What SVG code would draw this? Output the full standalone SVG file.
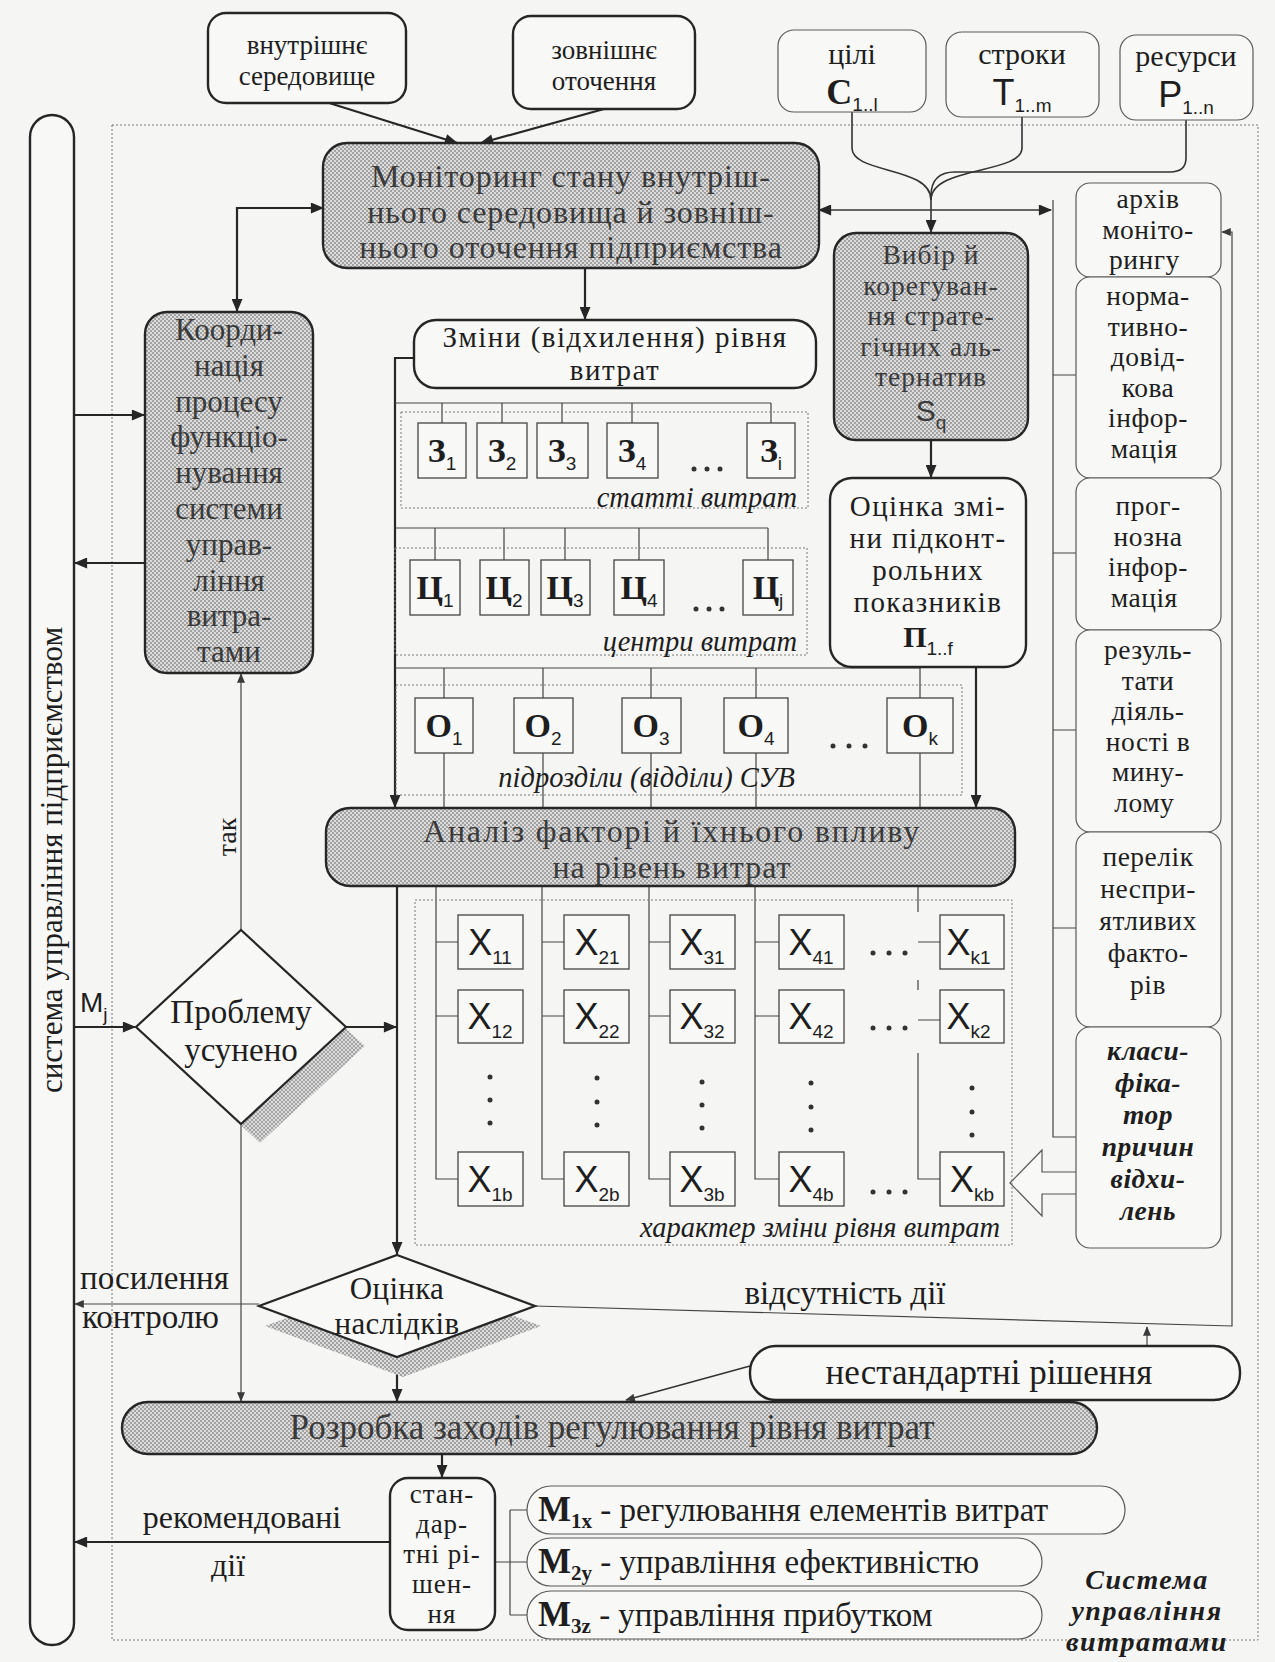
<svg xmlns="http://www.w3.org/2000/svg" width="1275" height="1662" viewBox="0 0 1275 1662" font-size="27">
<defs>
<pattern id="hatch" width="4" height="4" patternUnits="userSpaceOnUse">
<rect width="4" height="4" fill="#dcdcdc"/>
<rect width="2" height="2" fill="#a2a2a2"/>
<rect x="2" y="2" width="2" height="2" fill="#a2a2a2"/>
</pattern>
<marker id="ah" viewBox="0 0 12 10" refX="11" refY="5" markerWidth="15" markerHeight="11" markerUnits="userSpaceOnUse" orient="auto-start-reverse"><path d="M0,0 L12,5 L0,10 z" fill="#262626"/></marker>
<marker id="as" viewBox="0 0 12 10" refX="11" refY="5" markerWidth="11" markerHeight="8" markerUnits="userSpaceOnUse" orient="auto-start-reverse"><path d="M0,0 L12,5 L0,10 z" fill="#3a3a3a"/></marker>
<style>
.tb{fill:#f8f8f6;stroke:#262626;stroke-width:2.4}
.th{fill:#f8f8f6;stroke:#5a5a5a;stroke-width:1.2}
.sh{fill:url(#hatch);stroke:#262626;stroke-width:2.4}
.bx{fill:#f8f8f6;stroke:#444;stroke-width:1.3}
.t{font-family:"Liberation Serif","Times New Roman",serif;fill:#1e1e1e;text-anchor:middle}
.ts{fill:#3a3a3a}
.sf{font-family:"Liberation Sans",Arial,sans-serif}
.i{font-style:italic}
.b{font-weight:bold}
.ln{fill:none;stroke:#262626;stroke-width:2.2}
.lm{fill:none;stroke:#333;stroke-width:1.6}
.lt{fill:none;stroke:#444;stroke-width:1.2}
.dt{fill:none;stroke:#7a7a7a;stroke-width:1;stroke-dasharray:2 2}
.dot{fill:#333}
.sub{font-family:"Liberation Sans",Arial,sans-serif;font-size:19px;letter-spacing:0}
.bl{font-weight:bold;font-size:34px}
.xl{font-family:"Liberation Sans",Arial,sans-serif;font-size:36px}
.lbl{font-style:italic;font-size:28.5px;text-anchor:end}
</style>
</defs>
<rect width="1275" height="1662" fill="#f5f5f3"/>

<g id="cost-system-frame"><rect class="dt" x="112" y="125" width="1146" height="1515"/></g>

<g id="connectors">
<path class="ln" d="M326,102 L457,143" marker-end="url(#ah)"/>
<path class="ln" d="M604,109 L481,143" marker-end="url(#ah)"/>
<path class="lm" d="M852,112 V148 C852,174 931,166 931,200"/>
<path class="lm" d="M1022,117 V148 C1022,174 931,166 931,200"/>
<path class="lm" d="M1186,120 V158 Q1186,172 1170,172 H955 Q931,172 931,196"/>
<path class="lm" d="M931,196 V232" marker-end="url(#ah)"/>
<path class="lm" d="M819,210 H1051" marker-start="url(#ah)" marker-end="url(#ah)"/>
<path class="lt" d="M1053,200 V1137 H1076 M1053,375 H1076 M1053,553 H1076 M1053,730 H1076 M1053,928 H1076"/>
<path class="ln" d="M323,208 H237 V311" marker-start="url(#ah)" marker-end="url(#ah)"/>
<path class="ln" d="M585,268 V319" marker-end="url(#ah)"/>
<path class="ln" d="M74,415 H144" marker-end="url(#ah)"/>
<path class="ln" d="M145,563 H75" marker-end="url(#ah)"/>
<path class="ln" d="M931,440 V477" marker-end="url(#ah)"/>
<path class="ln" d="M976,667 V807" marker-end="url(#ah)"/>
<path class="ln" d="M414,358 H395 V807" marker-end="url(#ah)"/>
<path class="lt" d="M395,403 H771 M442,403 V423 M502,403 V423 M562,403 V423 M632,403 V423 M771,403 V423"/>
<path class="lt" d="M395,528 H768 M435,528 V560 M504,528 V560 M565,528 V560 M639,528 V560 M768,528 V560"/>
<path class="lt" d="M395,668 H920 M444,668 V698 M543,668 V698 M651,668 V698 M756,668 V698 M920,668 V698 M444,753 V808 M543,753 V808 M651,753 V808 M756,753 V808 M920,753 V808"/>
<path class="ln" d="M397,886 V1254" marker-end="url(#ah)"/>
<path class="lt" d="M436,886 V1179 H458 M436,942 H458 M436,1016 H458"/>
<path class="lt" d="M542,886 V1179 H564 M542,942 H564 M542,1016 H564"/>
<path class="lt" d="M649,886 V1179 H670 M649,942 H670 M649,1016 H670"/>
<path class="lt" d="M755,886 V1179 H779 M755,942 H779 M755,1016 H779"/>
<path class="lt" d="M918,886 V912 M918,980 V990 M918,1053 V1179 H940 M918,942 H940 M918,1020 H940"/>
<path class="lt" d="M241,930 V674" marker-end="url(#as)"/>
<path class="lt" d="M241,1124 V1401" marker-end="url(#as)"/>
<path class="ln" d="M346,1027 H396" marker-end="url(#ah)"/>
<path class="ln" d="M74,1027 H135" marker-end="url(#ah)"/>
<path class="lt" d="M259,1304 H75" marker-end="url(#as)"/>
<path class="ln" d="M397,1357 V1401" marker-end="url(#ah)"/>
<path class="lt" d="M535,1306 L1232,1326 V232 H1222" marker-end="url(#as)"/>
<path class="lt" d="M1147,1346 V1327" marker-end="url(#as)"/>
<path class="lm" d="M750,1366 L626,1400" marker-end="url(#as)"/>
<path class="ln" d="M442,1454 V1477" marker-end="url(#ah)"/>
<path class="ln" d="M390,1542 H75" marker-end="url(#ah)"/>
<path class="lt" d="M495,1562 H510 M510,1510 V1615 M510,1510 H527 M510,1562 H527 M510,1615 H527"/>
<polygon points="1010,1183 1042,1150 1042,1172 1078,1172 1078,1194 1042,1194 1042,1216" fill="#f8f8f6" stroke="#555" stroke-width="1.2"/>
</g>

<g id="enterprise-system"><rect class="tb" x="30" y="115" width="44" height="1530" rx="22"/><text class="t" font-size="31" transform="translate(62,860) rotate(-90)">система управління підприємством</text></g>

<g id="internal-env"><rect class="tb" x="208" y="13" width="198" height="90" rx="18"/><text class="t"><tspan x="307" y="54">внутрішнє</tspan><tspan x="307" y="85">середовище</tspan></text></g>
<g id="external-env"><rect class="tb" x="513" y="16" width="182" height="93" rx="18"/><text class="t"><tspan x="604" y="59">зовнішнє</tspan><tspan x="604" y="90">оточення</tspan></text></g>
<g id="goals"><rect class="th" x="778" y="30" width="148" height="82" rx="16"/><text class="t" font-size="30" x="852" y="64">цілі</text><text class="t" x="852" y="104"><tspan class="b" font-size="36">C</tspan><tspan class="sub" dy="7">1..l</tspan></text></g>
<g id="terms"><rect class="th" x="946" y="32" width="153" height="85" rx="16"/><text class="t" font-size="30" x="1022" y="64">строки</text><text class="t" x="1022" y="105"><tspan class="sf" font-size="36">T</tspan><tspan class="sub" dy="7">1..m</tspan></text></g>
<g id="resources"><rect class="th" x="1120" y="35" width="133" height="85" rx="16"/><text class="t" font-size="30" x="1186" y="66">ресурси</text><text class="t" x="1186" y="107"><tspan class="sf" font-size="36">P</tspan><tspan class="sub" dy="7">1..n</tspan></text></g>

<g id="monitoring"><rect class="sh" x="323" y="143" width="496" height="125" rx="24"/><text class="t ts" font-size="32" letter-spacing="0.9"><tspan x="571" y="187">Моніторинг стану внутріш-</tspan><tspan x="571" y="222.5">нього середовища й зовніш-</tspan><tspan x="571" y="258">нього оточення підприємства</tspan></text></g>

<g id="choice"><rect class="sh" x="834" y="233" width="194" height="207" rx="22"/><text class="t ts" font-size="27.5" letter-spacing="1"><tspan x="931" y="264">Вибір й</tspan><tspan x="931" y="294.5">корегуван-</tspan><tspan x="931" y="325">ня страте-</tspan><tspan x="931" y="355.5">гічних аль-</tspan><tspan x="931" y="386">тернатив</tspan></text><text class="t ts" x="931" y="421"><tspan class="sf" font-size="30">S</tspan><tspan class="sub" dy="8">q</tspan></text></g>

<g id="coordination"><rect class="sh" x="145" y="312" width="168" height="361" rx="22"/><text class="t ts" font-size="31"><tspan x="229" y="340">Коорди-</tspan><tspan x="229" y="375.8">нація</tspan><tspan x="229" y="411.6">процесу</tspan><tspan x="229" y="447.4">функціо-</tspan><tspan x="229" y="483.2">нування</tspan><tspan x="229" y="519">системи</tspan><tspan x="229" y="554.8">управ-</tspan><tspan x="229" y="590.6">ління</tspan><tspan x="229" y="626.4">витра-</tspan><tspan x="229" y="662.2">тами</tspan></text></g>

<g id="changes"><rect class="tb" x="414" y="320" width="402" height="68" rx="22"/><text class="t" font-size="29" letter-spacing="1.5"><tspan x="615" y="347">Зміни (відхилення) рівня</tspan><tspan x="615" y="379.5">витрат</tspan></text></g>

<g id="assessment"><rect class="tb" x="830" y="478" width="196" height="189" rx="22"/><text class="t" font-size="29" letter-spacing="1.4"><tspan x="928" y="516">Оцінка змі-</tspan><tspan x="928" y="548">ни підконт-</tspan><tspan x="928" y="580">рольних</tspan><tspan x="928" y="612">показників</tspan></text><text class="t" x="928" y="647"><tspan class="b" font-size="30">П</tspan><tspan class="sub" dy="8">1..f</tspan></text></g>

<g id="archive">
<rect class="th" x="1076" y="183" width="145" height="94" rx="14"/>
<rect class="th" x="1076" y="277" width="145" height="201" rx="14"/>
<rect class="th" x="1076" y="478" width="145" height="152" rx="14"/>
<rect class="th" x="1076" y="630" width="145" height="202" rx="14"/>
<rect class="th" x="1076" y="832" width="145" height="195" rx="14"/>
<rect class="th" x="1076" y="1027" width="145" height="221" rx="14"/>
<text class="t" font-size="27.5" letter-spacing="0.5"><tspan x="1148" y="208">архів</tspan><tspan x="1148" y="238.5">моніто-</tspan><tspan x="1148" y="269">рингу</tspan>
<tspan x="1148" y="305">норма-</tspan><tspan x="1148" y="335.5">тивно-</tspan><tspan x="1148" y="366">довід-</tspan><tspan x="1148" y="396.5">кова</tspan><tspan x="1148" y="427">інфор-</tspan><tspan x="1148" y="457.5">мація</tspan>
<tspan x="1148" y="515">прог-</tspan><tspan x="1148" y="545.5">нозна</tspan><tspan x="1148" y="576">інфор-</tspan><tspan x="1148" y="606.5">мація</tspan>
<tspan x="1148" y="659">резуль-</tspan><tspan x="1148" y="689.5">тати</tspan><tspan x="1148" y="720">діяль-</tspan><tspan x="1148" y="750.5">ності в</tspan><tspan x="1148" y="781">мину-</tspan><tspan x="1148" y="811.5">лому</tspan>
<tspan x="1148" y="866">перелік</tspan><tspan x="1148" y="898">неспри-</tspan><tspan x="1148" y="930">ятливих</tspan><tspan x="1148" y="962">факто-</tspan><tspan x="1148" y="994">рів</tspan></text>
<text class="t b i" font-size="27.5" letter-spacing="0.5"><tspan x="1148" y="1060">класи-</tspan><tspan x="1148" y="1092">фіка-</tspan><tspan x="1148" y="1124">тор</tspan><tspan x="1148" y="1156">причин</tspan><tspan x="1148" y="1188">відхи-</tspan><tspan x="1148" y="1220">лень</tspan></text>
</g>

<g id="cost-items">
<rect class="dt" x="401" y="412" width="407" height="96"/>
<rect class="bx" x="418" y="423" width="48" height="55"/><rect class="bx" x="477" y="423" width="50" height="55"/><rect class="bx" x="537" y="423" width="51" height="55"/><rect class="bx" x="607" y="423" width="51" height="55"/><rect class="bx" x="747" y="423" width="48" height="55"/>
<text class="t"><tspan x="442" y="462"><tspan class="bl">З</tspan><tspan class="sub" dy="8">1</tspan></tspan><tspan x="502" y="462"><tspan class="bl">З</tspan><tspan class="sub" dy="8">2</tspan></tspan><tspan x="562" y="462"><tspan class="bl">З</tspan><tspan class="sub" dy="8">3</tspan></tspan><tspan x="632" y="462"><tspan class="bl">З</tspan><tspan class="sub" dy="8">4</tspan></tspan><tspan x="771" y="462"><tspan class="bl">З</tspan><tspan class="sub" dy="8">i</tspan></tspan></text>
<circle class="dot" cx="694" cy="469" r="2.5"/><circle class="dot" cx="707" cy="469" r="2.5"/><circle class="dot" cx="720" cy="469" r="2.5"/>
<text class="t lbl" x="797" y="507">статті витрат</text>
</g>

<g id="cost-centers">
<rect class="dt" x="395" y="548" width="412" height="107"/>
<rect class="bx" x="410" y="560" width="50" height="55"/><rect class="bx" x="480" y="560" width="49" height="55"/><rect class="bx" x="541" y="560" width="49" height="55"/><rect class="bx" x="614" y="560" width="50" height="55"/><rect class="bx" x="743" y="560" width="50" height="55"/>
<text class="t"><tspan x="435" y="599"><tspan class="bl">Ц</tspan><tspan class="sub" dy="8">1</tspan></tspan><tspan x="504" y="599"><tspan class="bl">Ц</tspan><tspan class="sub" dy="8">2</tspan></tspan><tspan x="565" y="599"><tspan class="bl">Ц</tspan><tspan class="sub" dy="8">3</tspan></tspan><tspan x="639" y="599"><tspan class="bl">Ц</tspan><tspan class="sub" dy="8">4</tspan></tspan><tspan x="768" y="599"><tspan class="bl">Ц</tspan><tspan class="sub" dy="8">j</tspan></tspan></text>
<circle class="dot" cx="696" cy="609" r="2.5"/><circle class="dot" cx="709" cy="609" r="2.5"/><circle class="dot" cx="722" cy="609" r="2.5"/>
<text class="t lbl" x="797" y="651">центри витрат</text>
</g>

<g id="departments">
<rect class="dt" x="396" y="685" width="566" height="110"/>
<rect class="bx" x="415" y="698" width="58" height="55"/><rect class="bx" x="514" y="698" width="59" height="55"/><rect class="bx" x="622" y="698" width="59" height="55"/><rect class="bx" x="724" y="698" width="64" height="55"/><rect class="bx" x="887" y="698" width="66" height="55"/>
<text class="t"><tspan x="444" y="737"><tspan class="bl">О</tspan><tspan class="sub" dy="8">1</tspan></tspan><tspan x="543" y="737"><tspan class="bl">О</tspan><tspan class="sub" dy="8">2</tspan></tspan><tspan x="651" y="737"><tspan class="bl">О</tspan><tspan class="sub" dy="8">3</tspan></tspan><tspan x="756" y="737"><tspan class="bl">О</tspan><tspan class="sub" dy="8">4</tspan></tspan><tspan x="920" y="737"><tspan class="bl">О</tspan><tspan class="sub" dy="8">k</tspan></tspan></text>
<circle class="dot" cx="833" cy="746" r="2.5"/><circle class="dot" cx="849" cy="746" r="2.5"/><circle class="dot" cx="865" cy="746" r="2.5"/>
<text class="t lbl" x="795" y="787">підрозділи (відділи) СУВ</text>
</g>

<g id="analysis"><rect class="sh" x="326" y="808" width="689" height="78" rx="24"/><text class="t ts" font-size="32"><tspan x="672" y="842" letter-spacing="1.8">Аналіз факторі й їхнього впливу</tspan><tspan x="672" y="877.5" letter-spacing="1">на рівень витрат</tspan></text></g>

<g id="factors">
<rect class="dt" x="415" y="900" width="597" height="345"/>
<rect class="bx" x="458" y="915" width="65" height="54"/><rect class="bx" x="564" y="915" width="65" height="54"/><rect class="bx" x="670" y="915" width="65" height="54"/><rect class="bx" x="779" y="915" width="65" height="54"/><rect class="bx" x="940" y="915" width="64" height="54"/>
<rect class="bx" x="458" y="990" width="65" height="53"/><rect class="bx" x="564" y="990" width="65" height="53"/><rect class="bx" x="670" y="990" width="65" height="53"/><rect class="bx" x="779" y="990" width="65" height="53"/><rect class="bx" x="940" y="990" width="64" height="53"/>
<rect class="bx" x="458" y="1152" width="65" height="54"/><rect class="bx" x="564" y="1152" width="65" height="54"/><rect class="bx" x="670" y="1152" width="65" height="54"/><rect class="bx" x="779" y="1152" width="65" height="54"/><rect class="bx" x="940" y="1152" width="64" height="54"/>
<text class="t">
<tspan x="490" y="955"><tspan class="xl">X</tspan><tspan class="sub" dy="9">11</tspan></tspan><tspan x="597" y="955"><tspan class="xl">X</tspan><tspan class="sub" dy="9">21</tspan></tspan><tspan x="702" y="955"><tspan class="xl">X</tspan><tspan class="sub" dy="9">31</tspan></tspan><tspan x="811" y="955"><tspan class="xl">X</tspan><tspan class="sub" dy="9">41</tspan></tspan><tspan x="972" y="955"><tspan class="xl">X</tspan><tspan class="sub" dy="9">k1</tspan></tspan>
<tspan x="490" y="1029"><tspan class="xl">X</tspan><tspan class="sub" dy="9">12</tspan></tspan><tspan x="597" y="1029"><tspan class="xl">X</tspan><tspan class="sub" dy="9">22</tspan></tspan><tspan x="702" y="1029"><tspan class="xl">X</tspan><tspan class="sub" dy="9">32</tspan></tspan><tspan x="811" y="1029"><tspan class="xl">X</tspan><tspan class="sub" dy="9">42</tspan></tspan><tspan x="972" y="1029"><tspan class="xl">X</tspan><tspan class="sub" dy="9">k2</tspan></tspan>
<tspan x="490" y="1192"><tspan class="xl">X</tspan><tspan class="sub" dy="9">1b</tspan></tspan><tspan x="597" y="1192"><tspan class="xl">X</tspan><tspan class="sub" dy="9">2b</tspan></tspan><tspan x="702" y="1192"><tspan class="xl">X</tspan><tspan class="sub" dy="9">3b</tspan></tspan><tspan x="811" y="1192"><tspan class="xl">X</tspan><tspan class="sub" dy="9">4b</tspan></tspan><tspan x="972" y="1192"><tspan class="xl">X</tspan><tspan class="sub" dy="9">kb</tspan></tspan>
</text>
<g class="dot">
<circle cx="490" cy="1077" r="2.5"/><circle cx="490" cy="1100" r="2.5"/><circle cx="490" cy="1123" r="2.5"/>
<circle cx="597" cy="1078" r="2.5"/><circle cx="597" cy="1102" r="2.5"/><circle cx="597" cy="1125" r="2.5"/>
<circle cx="702" cy="1082" r="2.5"/><circle cx="702" cy="1105" r="2.5"/><circle cx="702" cy="1128" r="2.5"/>
<circle cx="811" cy="1083" r="2.5"/><circle cx="811" cy="1107" r="2.5"/><circle cx="811" cy="1130" r="2.5"/>
<circle cx="972" cy="1088" r="2.5"/><circle cx="972" cy="1112" r="2.5"/><circle cx="972" cy="1135" r="2.5"/>
<circle cx="873" cy="953" r="2.5"/><circle cx="889" cy="953" r="2.5"/><circle cx="905" cy="953" r="2.5"/>
<circle cx="873" cy="1028" r="2.5"/><circle cx="889" cy="1028" r="2.5"/><circle cx="905" cy="1028" r="2.5"/>
<circle cx="873" cy="1192" r="2.5"/><circle cx="889" cy="1192" r="2.5"/><circle cx="905" cy="1192" r="2.5"/>
</g>
<text class="t lbl" x="1000" y="1237">характер зміни рівня витрат</text>
</g>

<g id="problem-solved">
<polygon points="241,930 346,1027 241,1124 136,1027" transform="translate(19,19)" fill="url(#hatch)"/>
<polygon points="241,930 346,1027 241,1124 136,1027" fill="#f8f8f6" stroke="#262626" stroke-width="2.2"/>
<text class="t" font-size="33"><tspan x="241" y="1023">Проблему</tspan><tspan x="241" y="1061">усунено</tspan></text>
</g>
<text class="t sf" x="80" y="1012" style="text-anchor:start" font-size="28">M<tspan class="sub" font-size="17" dy="9">j</tspan></text>
<text class="t" font-size="28" transform="translate(236,837) rotate(-90)">так</text>

<g id="consequences">
<polygon points="397,1255 535,1306 397,1357 259,1306" transform="translate(6,20)" fill="url(#hatch)"/>
<polygon points="397,1255 535,1306 397,1357 259,1306" fill="#f8f8f6" stroke="#262626" stroke-width="2.2"/>
<text class="t" font-size="31" letter-spacing="0.3"><tspan x="397" y="1299">Оцінка</tspan><tspan x="397" y="1334">наслідків</tspan></text>
</g>
<text class="t" font-size="33" style="text-anchor:start"><tspan x="80" y="1289">посилення</tspan><tspan x="82" y="1328">контролю</tspan></text>
<text class="t" font-size="33" x="845" y="1304">відсутність дії</text>

<g id="nonstandard"><rect class="tb" x="750" y="1346" width="490" height="54" rx="26"/><text class="t" font-size="35" x="989" y="1384">нестандартні рішення</text></g>

<g id="measures"><rect class="sh" x="122" y="1402" width="975" height="52" rx="26"/><text class="t ts" font-size="35" x="612" y="1439">Розробка заходів регулювання рівня витрат</text></g>

<g id="standard"><rect class="tb" x="390" y="1478" width="105" height="152" rx="18"/><text class="t" font-size="27" letter-spacing="1"><tspan x="442" y="1503">стан-</tspan><tspan x="442" y="1533">дар-</tspan><tspan x="442" y="1563">тні рі-</tspan><tspan x="442" y="1593">шен-</tspan><tspan x="442" y="1623">ня</tspan></text></g>
<text class="t" font-size="32"><tspan x="242" y="1528">рекомендовані</tspan><tspan x="228" y="1576">дії</tspan></text>

<g id="m1"><rect class="th" x="527" y="1486" width="598" height="48" rx="24"/><text class="t" font-size="33" x="538" y="1521" style="text-anchor:start"><tspan class="b" font-size="35">M</tspan><tspan class="b" font-size="21" dy="7">1x</tspan><tspan dy="-7"> - регулювання елементів витрат</tspan></text></g>
<g id="m2"><rect class="th" x="527" y="1538" width="515" height="48" rx="24"/><text class="t" font-size="33" x="538" y="1573" style="text-anchor:start"><tspan class="b" font-size="35">M</tspan><tspan class="b" font-size="21" dy="7">2y</tspan><tspan dy="-7"> - управління ефективністю</tspan></text></g>
<g id="m3"><rect class="th" x="527" y="1591" width="515" height="48" rx="24"/><text class="t" font-size="33" x="538" y="1626" style="text-anchor:start"><tspan class="b" font-size="35">M</tspan><tspan class="b" font-size="21" dy="7">3z</tspan><tspan dy="-7"> - управління прибутком</tspan></text></g>

<text class="t b i" font-size="28" letter-spacing="1.5"><tspan x="1147" y="1589">Система</tspan><tspan x="1147" y="1620">управління</tspan><tspan x="1147" y="1651">витратами</tspan></text>
</svg>
